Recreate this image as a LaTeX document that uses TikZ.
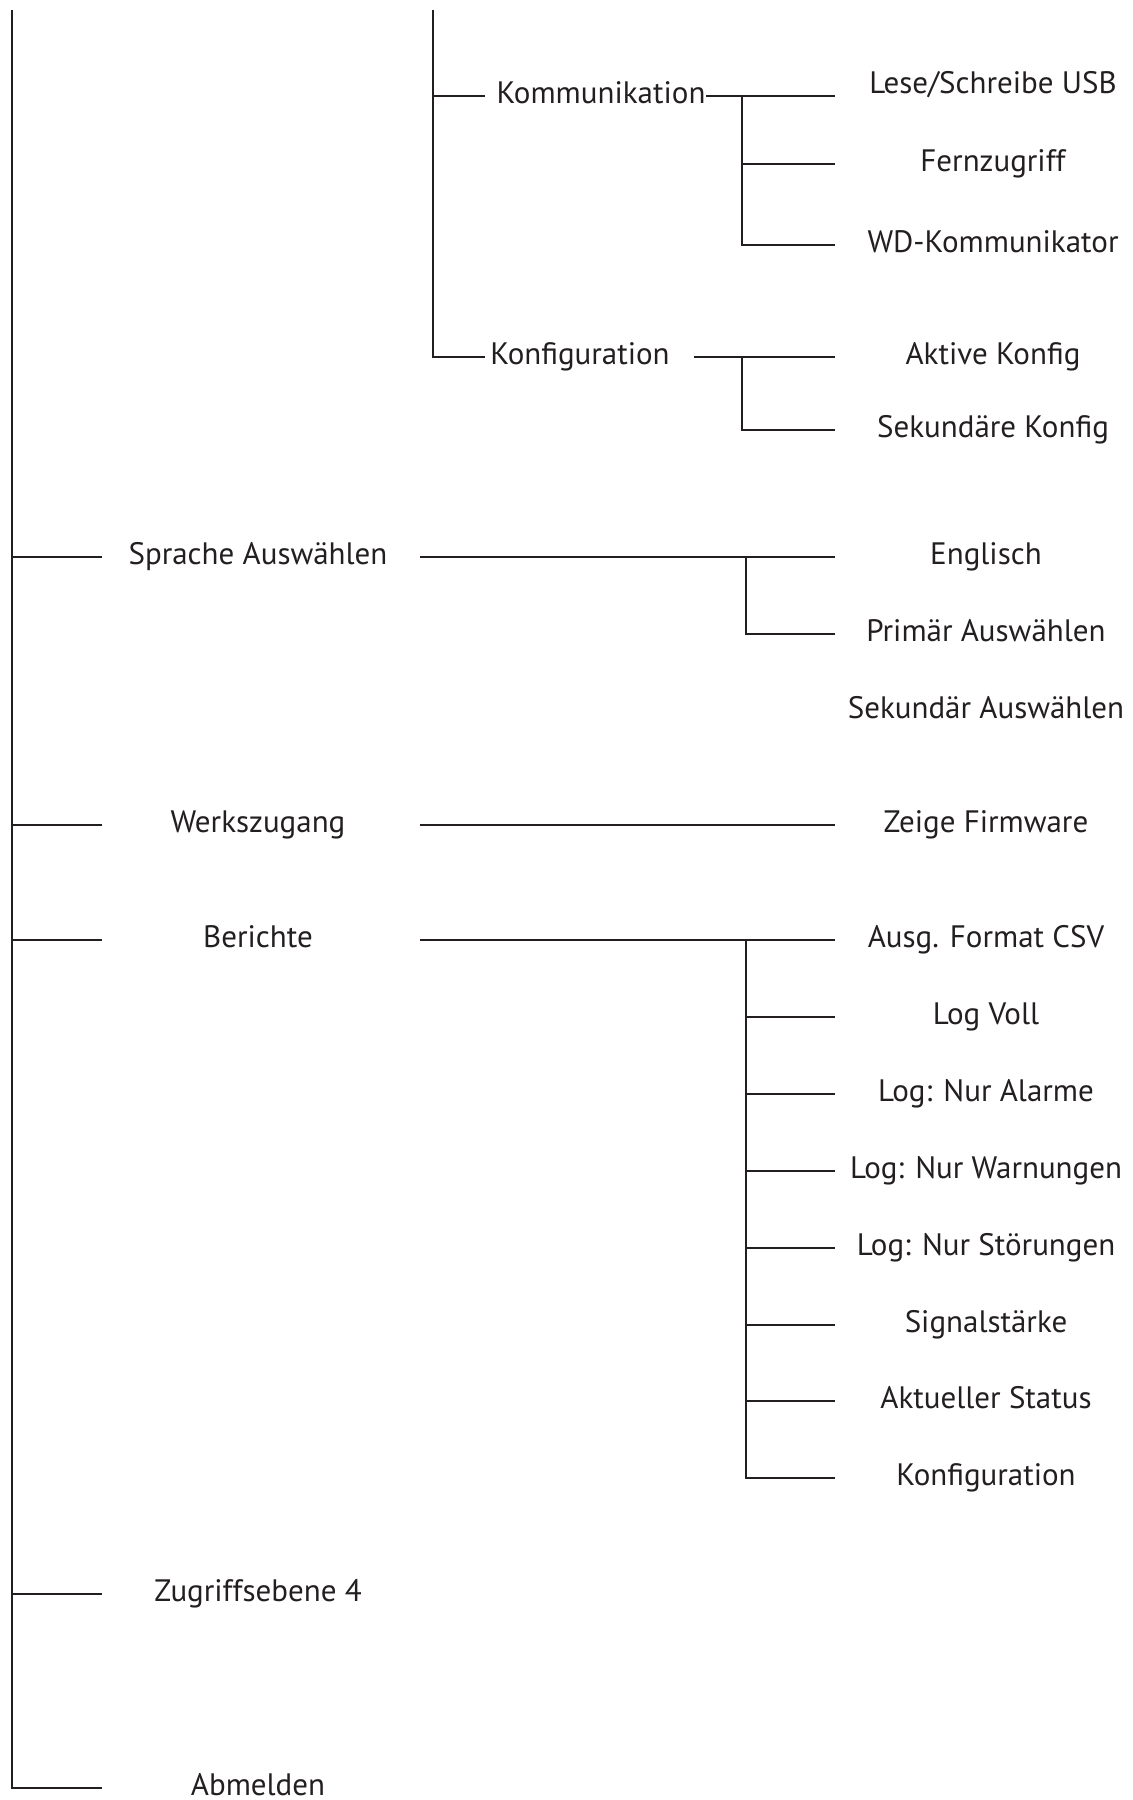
\documentclass[tikz,border=0pt]{standalone}
\usepackage{fontspec}
\setmainfont{PT Sans}
\usepackage{xcolor}
\usetikzlibrary{positioning, calc}
\definecolor{ink}{HTML}{231F20}
\tikzset{
    item/.style={inner sep=0pt, text height=0.7em, text depth=0pt, text=ink, font=\fontsize{15.5}{18}\selectfont},
    branch/.style={draw=ink, line width=1.35pt}
}

\begin{document}
\begin{tikzpicture}[x=0.5pt, y=-0.5pt]
    \useasboundingbox (0,0) rectangle (1133,1800);

    % columns where the stubs start, fork and stop
    \coordinate (top) at (12,10);
    \coordinate (stub) at (102,0);
    \coordinate (mx) at (420,0);
    \coordinate (fx) at (746,0);
    \coordinate (rx) at (835,0);
    \coordinate (top2) at (433,10);
    \coordinate (kx) at (485,0);
    \coordinate (kfx) at (694,0);
    \coordinate (fx2) at (742,0);

    % Kommunikation / Konfiguration
    \node[item] (komm) at (601,96) {Kommunikation};
    \node[item] (konf) at (580,357) {Konfiguration};
    \node[item] (usb) at (993,86) {Lese/Schreibe USB};
    \node[item] (fern) at (993,164) {Fernzugriff};
    \node[item] (wdk) at (993,245) {WD-Kommunikator};
    \node[item] (aktiv) at (993,357) {Aktive Konfig};
    \node[item] (sekkonf) at (993,430) {Sekundäre Konfig};

    \draw[branch] (top2) |- (konf -| kx);
    \draw[branch] (komm -| top2) -- (komm -| kx);
    \draw[branch] (komm.east) -- (komm -| rx);
    \draw[branch] (komm -| fx2) |- (wdk -| rx);
    \draw[branch] (fern -| fx2) -- (fern -| rx);
    \draw[branch] (konf -| kfx) -- (konf -| rx);
    \draw[branch] (konf -| fx2) |- (sekkonf -| rx);

    % first level
    \node[item] (sprache) at (258,557) {Sprache Auswählen};
    \node[item] (werk) at (258,825) {Werkszugang};
    \node[item] (berichte) at (258,940) {Berichte};
    \node[item] (zugriff) at (258,1594) {Zugriffsebene 4};
    \node[item] (abmelden) at (258,1788) {Abmelden};

    \draw[branch] (top) |- (abmelden -| stub);
    \foreach \n in {sprache, werk, berichte, zugriff}
        \draw[branch] (\n -| top) -- (\n -| stub);

    % Sprache
    \node[item] (englisch) at (986,557) {Englisch};
    \node[item] (primaer) at (986,634) {Primär Auswählen};
    \node[item] (sekundaer) at (986,711) {Sekundär Auswählen};
    \draw[branch] (sprache -| mx) -- (englisch -| rx);
    \draw[branch] (sprache -| fx) |- (primaer -| rx);

    % Werkszugang
    \node[item] (firmware) at (986,825) {Zeige Firmware};
    \draw[branch] (werk -| mx) -- (firmware -| rx);

    % Berichte
    \node[item] (csv) at (986,940) {Ausg. Format CSV};
    \node[item] (voll) at (986,1017) {Log Voll};
    \node[item] (alarme) at (986,1094) {Log: Nur Alarme};
    \node[item] (warn) at (986,1171) {Log: Nur Warnungen};
    \node[item] (stoer) at (986,1248) {Log: Nur Störungen};
    \node[item] (signal) at (986,1325) {Signalstärke};
    \node[item] (status) at (986,1401) {Aktueller Status};
    \node[item] (konfig) at (986,1478) {Konfiguration};
    \draw[branch] (berichte -| mx) -- (csv -| rx);
    \draw[branch] (berichte -| fx) |- (konfig -| rx);
    \foreach \n in {voll, alarme, warn, stoer, signal, status}
        \draw[branch] (\n -| fx) -- (\n -| rx);
\end{tikzpicture}
\end{document}
